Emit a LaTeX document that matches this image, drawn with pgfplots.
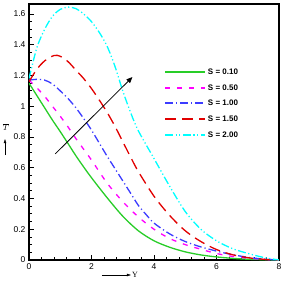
\documentclass[border=0pt]{standalone}
\usepackage{pgfplots}
\pgfplotsset{compat=1.18}
\usepackage{fontspec}
\setmainfont{Liberation Sans}
\newfontfamily\serifY{Liberation Serif}
\usetikzlibrary{arrows.meta}
\definecolor{cgreen}{RGB}{40,205,40}
\definecolor{cmag}{RGB}{255,0,255}
\definecolor{cblue}{RGB}{60,60,255}
\definecolor{cred}{RGB}{225,0,0}
\definecolor{ccyan}{RGB}{0,255,255}
\begin{document}
\begin{tikzpicture}
\useasboundingbox (-29pt,-25pt) rectangle (255pt,260pt);
\begin{axis}[
  at={(0,0)}, anchor=south west,
  scale only axis, width=250pt, height=256pt,
  xmin=0, xmax=8, ymin=0, ymax=1.665,
  xtick={0,2,4,6,8}, ytick={0,0.2,0.4,0.6,0.8,1,1.2,1.4,1.6},
  minor x tick num=4, minor y tick num=3,
  xtick pos=left, ytick pos=left,
  tick align=inside,
  major tick length=5pt, minor tick length=3pt,
  every tick/.style={black, line width=0.8pt},
  axis line style={line width=1.3pt},
  tick label style={font=\fontsize{8.5}{9}\selectfont},
  /pgf/number format/assume math mode=true,
  legend style={draw=none, fill=none, at={(0.54,0.755)}, anchor=north west,
    font=\fontsize{8}{9}\selectfont\bfseries, row sep=4.6pt, inner sep=0pt,
    cells={anchor=west}},
  legend image code/.code={\draw[#1, line width=1.8pt] (0pt,0.5pt) -- (40pt,0.5pt);},
  every axis plot/.append style={line width=1.3pt, smooth, tension=0.5},
  clip=true,
]
\addplot[cgreen] coordinates {(0,1.15)(0.25,1.07)(0.5,0.99)(0.75,0.91)(1,0.835)(1.25,0.757)(1.5,0.678)(1.75,0.605)(2,0.535)(2.5,0.405)(3,0.285)(3.5,0.19)(4,0.125)(4.5,0.083)(5,0.053)(5.5,0.033)(6,0.02)(6.5,0.011)(7,0.005)(7.5,0.002)(8,0)};
\addlegendentry{S = 0.10}
\addplot[cmag, dash pattern=on 5pt off 7pt] coordinates {(0,1.17)(0.25,1.12)(0.5,1.065)(0.75,1.0)(1,0.935)(1.25,0.865)(1.5,0.79)(1.75,0.72)(2,0.65)(2.5,0.5)(3,0.38)(3.5,0.28)(4,0.2)(4.5,0.14)(5,0.1)(5.5,0.07)(6,0.042)(6.5,0.024)(7,0.012)(7.5,0.004)(8,0)};
\addlegendentry{S = 0.50}
\addplot[cblue, dash pattern=on 8pt off 3pt on 1.2pt off 3pt] coordinates {(0,1.17)(0.25,1.175)(0.5,1.17)(0.75,1.145)(1,1.1)(1.25,1.05)(1.5,0.99)(1.75,0.92)(2,0.845)(2.25,0.76)(2.5,0.675)(2.75,0.595)(3,0.515)(3.25,0.435)(3.5,0.355)(3.75,0.295)(4,0.24)(4.5,0.17)(5,0.12)(5.5,0.085)(6,0.058)(6.5,0.035)(7,0.018)(7.5,0.006)(8,0)};
\addlegendentry{S = 1.00}
\addplot[cred, dash pattern=on 11pt off 6pt] coordinates {(0,1.16)(0.25,1.24)(0.5,1.295)(0.8,1.33)(1,1.325)(1.25,1.29)(1.5,1.235)(1.75,1.18)(2,1.115)(2.25,1.04)(2.5,0.96)(2.75,0.87)(3,0.77)(3.25,0.67)(3.5,0.575)(4,0.415)(4.5,0.29)(5,0.19)(5.5,0.12)(6,0.068)(6.5,0.035)(7,0.015)(7.5,0.005)(8,0)};
\addlegendentry{S = 1.50}
\addplot[ccyan, dash pattern=on 8pt off 2.5pt on 1.2pt off 2.5pt on 1.2pt off 2.5pt] coordinates {(0,1.18)(0.25,1.38)(0.5,1.5)(0.75,1.585)(1,1.63)(1.25,1.645)(1.5,1.635)(1.75,1.6)(2,1.55)(2.25,1.48)(2.5,1.39)(2.75,1.26)(3,1.1)(3.25,0.96)(3.5,0.84)(4,0.66)(4.5,0.48)(5,0.315)(5.5,0.2)(6,0.125)(6.5,0.075)(7,0.043)(7.5,0.017)(8,0)};
\addlegendentry{S = 2.00}
\draw[black, line width=0.8pt, -{Triangle[length=6pt,width=5pt]}] (axis cs:0.84,0.69) -- (axis cs:3.31,1.19);
\end{axis}
\node[font=\fontsize{8}{9}\selectfont] at (-23pt,133pt) {$\overline{T}$};
\draw[line width=0.5pt, -{Triangle[length=4pt,width=2.5pt]}] (-24pt,105pt) -- (-24pt,121pt);
\draw[line width=0.5pt, -{Triangle[length=4pt,width=2.5pt]}] (73pt,-15pt) -- (102pt,-15pt);
\node[font=\fontsize{8}{9}\selectfont\serifY, anchor=west, inner sep=0pt] at (103pt,-15pt) {Y};
\end{tikzpicture}
\end{document}
